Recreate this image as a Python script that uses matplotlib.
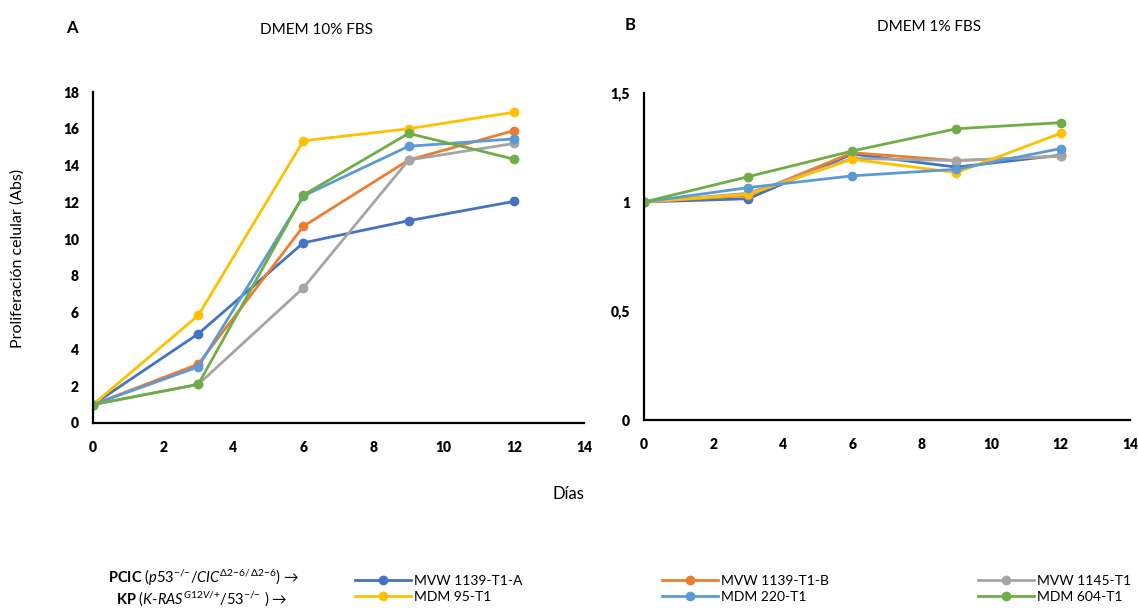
import matplotlib
matplotlib.use("Agg")
import matplotlib.pyplot as plt
from matplotlib.ticker import FuncFormatter

plt.rcParams['font.family'] = ['Lato', 'DejaVu Sans']
plt.rcParams['mathtext.fontset'] = 'custom'
plt.rcParams['mathtext.rm'] = 'Lato'
plt.rcParams['mathtext.it'] = 'Lato:italic'
plt.rcParams['mathtext.bf'] = 'Lato:bold'

days = [0, 3, 6, 9, 12]
names = ["MVW 1139-T1-A", "MVW 1139-T1-B", "MVW 1145-T1",
         "MDM 95-T1", "MDM 220-T1", "MDM 604-T1"]
colors = ["#4472C4", "#ED7D31", "#A5A5A5", "#FFC000", "#5B9BD5", "#70AD47"]

# DMEM 10% FBS
fbs10_mvw1139a = [1, 4.85, 9.8, 11.0, 12.05]
fbs10_mvw1139b = [1, 3.2, 10.7, 14.3, 15.9]
fbs10_mvw1145 = [1, 2.1, 7.35, 14.3, 15.2]
fbs10_mdm95 = [1, 5.85, 15.35, 16.0, 16.9]
fbs10_mdm220 = [1, 3.05, 12.35, 15.05, 15.45]
fbs10_mdm604 = [1, 2.1, 12.4, 15.75, 14.35]

# DMEM 1% FBS
fbs1_mvw1139a = [1, 1.015, 1.22, 1.16, 1.215]
fbs1_mvw1139b = [1, 1.03, 1.226, 1.19, 1.21]
fbs1_mvw1145 = [1, 1.04, 1.2, 1.19, 1.21]
fbs1_mdm95 = [1, 1.035, 1.196, 1.135, 1.315]
fbs1_mdm220 = [1, 1.066, 1.12, 1.15, 1.245]
fbs1_mdm604 = [1, 1.116, 1.234, 1.336, 1.364]

series_a = [fbs10_mvw1139a, fbs10_mvw1139b, fbs10_mvw1145,
            fbs10_mdm95, fbs10_mdm220, fbs10_mdm604]
series_b = [fbs1_mvw1139a, fbs1_mvw1139b, fbs1_mvw1145,
            fbs1_mdm95, fbs1_mdm220, fbs1_mdm604]

fig = plt.figure(figsize=(11.38, 6.08), dpi=100)
ax_a = fig.add_axes([93 / 1138, 185 / 608, 491 / 1138, 331 / 608])
ax_b = fig.add_axes([644 / 1138, 188 / 608, 486 / 1138, 327 / 608])


def style(ax):
    for s in ["top", "right"]:
        ax.spines[s].set_visible(False)
    for s in ["left", "bottom"]:
        ax.spines[s].set_linewidth(1.6)
        ax.spines[s].set_color("black")
    ax.set_xlim(0, 14)
    ax.set_xticks(range(0, 15, 2))
    ax.tick_params(axis="x", length=0, pad=13, labelsize=10)
    ax.tick_params(axis="y", length=0, pad=10, labelsize=10)
    for lab in ax.get_xticklabels() + ax.get_yticklabels():
        lab.set_fontweight("heavy")


lines = []
for vals, c, n in zip(series_a, colors, names):
    ln, = ax_a.plot(days, vals, "-o", color=c, lw=2, markersize=6, label=n)
    lines.append(ln)
for vals, c in zip(series_b, colors):
    ax_b.plot(days, vals, "-o", color=c, lw=2, markersize=6)

ax_a.set_ylim(0, 18)
ax_a.set_yticks(range(0, 19, 2))
ax_b.set_ylim(0, 1.5)
ax_b.set_yticks([0, 0.5, 1, 1.5])
ax_b.yaxis.set_major_formatter(FuncFormatter(lambda v, p: ("%g" % v).replace(".", ",")))
style(ax_a)
style(ax_b)

fig.text(72 / 1138, 1 - 28 / 608, "A", fontsize=12, fontweight="bold", ha="center", va="center")
fig.text(630 / 1138, 1 - 25 / 608, "B", fontsize=12, fontweight="bold", ha="center", va="center")
fig.text(316 / 1138, 1 - 30 / 608, "DMEM 10% FBS", fontsize=11, ha="center", va="center")
fig.text(929 / 1138, 1 - 27 / 608, "DMEM 1% FBS", fontsize=11, ha="center", va="center")
fig.text(18 / 1138, 1 - 258 / 608, "Proliferación celular (Abs)", fontsize=11.5,
         rotation=90, ha="center", va="center")
fig.text(568 / 1138, 1 - 494 / 608, "Días", fontsize=12, ha="center", va="center")

fig.text(204 / 1138, 1 - 578 / 608,
         r"$\mathbf{PCIC}$ ($\mathit{p53}^{\mathit{{-}/{-}}}/\mathit{CIC}^{\mathit{\Delta 2{-}6/\,\Delta 2{-}6}}$) →",
         fontsize=10.5, ha="center", va="center")
fig.text(202 / 1138, 1 - 599 / 608,
         r"$\mathbf{KP}$ ($\mathit{K}$-$\mathit{RAS}^{\mathit{G12V/{+}}}/\mathit{53}^{\mathit{{-}/{-}}}$ ) →",
         fontsize=10.5, ha="center", va="center")

col_x = [355, 662, 978]
for i, x in enumerate(col_x):
    fig.legend(handles=[lines[i], lines[i + 3]], loc="center left",
               bbox_to_anchor=(x / 1138, 1 - 589 / 608), frameon=False,
               fontsize=10, handlelength=4.0, handletextpad=0.25,
               labelspacing=0.3, borderaxespad=0, borderpad=0)

fig.savefig("out.png", dpi=100)
